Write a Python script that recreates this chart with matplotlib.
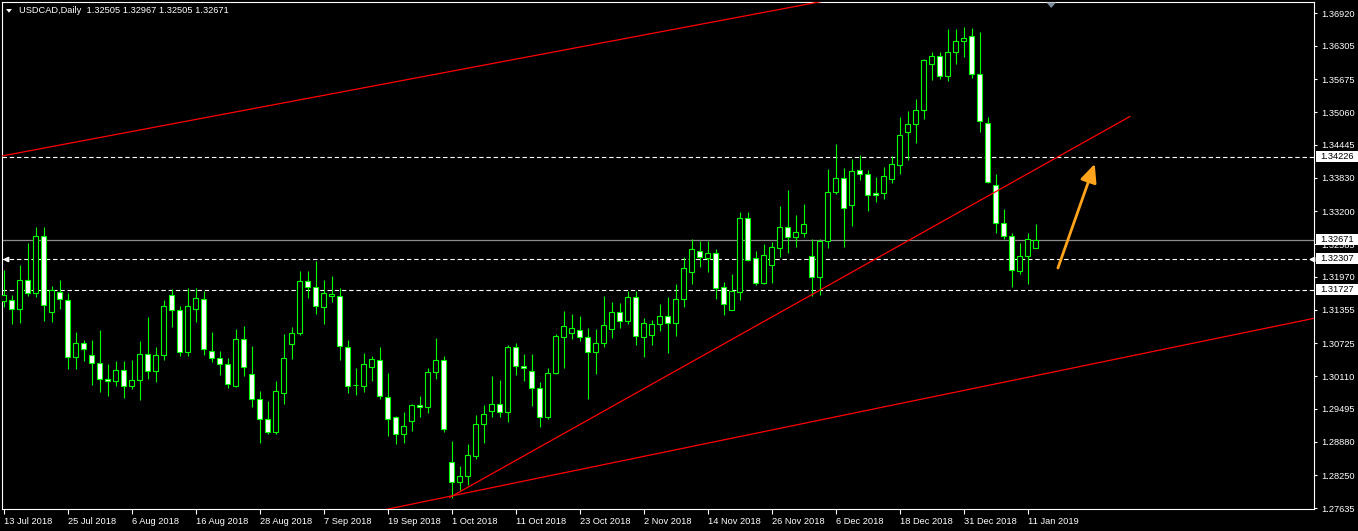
import matplotlib
matplotlib.use("Agg")
import matplotlib.pyplot as plt
from matplotlib.patches import Rectangle, Polygon
import matplotlib.transforms as mtransforms
import numpy as np

# ---------------- data (USDCAD daily) ----------------
date_labels = ["13 Jul 2018", "25 Jul 2018", "6 Aug 2018", "16 Aug 2018", "28 Aug 2018",
               "7 Sep 2018", "19 Sep 2018", "1 Oct 2018", "11 Oct 2018", "23 Oct 2018",
               "2 Nov 2018", "14 Nov 2018", "26 Nov 2018", "6 Dec 2018", "18 Dec 2018",
               "31 Dec 2018", "11 Jan 2019"]

opens = [1.31518, 1.31537, 1.31368, 1.31912, 1.31668, 1.32737, 1.31312, 1.31687, 1.31537, 1.30467,
         1.30730, 1.30505, 1.30355, 1.30055, 1.30017, 1.30224, 1.29923, 1.30036, 1.30524, 1.30205,
         1.30505, 1.31630, 1.31349, 1.30561, 1.31368, 1.31555, 1.30580, 1.30449, 1.30336, 1.29923,
         1.30805, 1.30149, 1.29680, 1.29304, 1.29061, 1.29792, 1.30711, 1.30918, 1.31893, 1.31781,
         1.31405, 1.31612, 1.31612, 1.30655, 1.29942, 1.29923, 1.30280, 1.30411, 1.29717, 1.29342,
         1.29023, 1.29267, 1.29567, 1.29530, 1.30186, 1.30411, 1.28498, 1.28123, 1.28235, 1.28610,
         1.29211, 1.29455, 1.29586, 1.29436, 1.30655, 1.30299, 1.30205, 1.29886, 1.29342, 1.30167,
         1.30843, 1.30918, 1.30974, 1.30843, 1.30561, 1.30730, 1.30993, 1.31312, 1.31143, 1.31593,
         1.30843, 1.30880, 1.31086, 1.31237, 1.31105, 1.31555, 1.32062, 1.32456, 1.32324, 1.32418,
         1.31781, 1.31349, 1.31687, 1.33075, 1.32324, 1.31856, 1.32193, 1.32512, 1.32906, 1.32718,
         1.32793, 1.32362, 1.31968, 1.32643, 1.33563, 1.33825, 1.33319, 1.33975, 1.33900, 1.33544,
         1.33544, 1.33806, 1.34069, 1.34688, 1.34838, 1.35101, 1.35963, 1.36114, 1.35738, 1.36189,
         1.36395, 1.36489, 1.35776, 1.34857, 1.33694, 1.32981, 1.32737, 1.32081, 1.32362, 1.32505]

highs = [1.32099, 1.31630, 1.32193, 1.32606, 1.32906, 1.32906, 1.31799, 1.31912, 1.31668, 1.30936,
         1.30786, 1.30786, 1.30974, 1.30336, 1.30392, 1.30392, 1.30411, 1.30768, 1.31218, 1.30655,
         1.31537, 1.31743, 1.31424, 1.31762, 1.31762, 1.31705, 1.30936, 1.30580, 1.30449, 1.30993,
         1.31049, 1.30674, 1.29830, 1.29642, 1.30017, 1.30899, 1.31030, 1.32081, 1.32081, 1.32268,
         1.31912, 1.31987, 1.31762, 1.30786, 1.30261, 1.30542, 1.30486, 1.30655, 1.30167, 1.29361,
         1.29436, 1.29586, 1.29736, 1.30261, 1.30824, 1.30486, 1.28892, 1.28423, 1.28835, 1.29379,
         1.29567, 1.30111, 1.30036, 1.30693, 1.30730, 1.30524, 1.30524, 1.29999, 1.30261, 1.30899,
         1.31330, 1.31274, 1.31237, 1.31011, 1.30993, 1.31612, 1.31499, 1.31480, 1.31705, 1.31705,
         1.31199, 1.31161, 1.31462, 1.31593, 1.31837, 1.32343, 1.32681, 1.32643, 1.32643, 1.32493,
         1.31874, 1.32024, 1.33187, 1.33187, 1.32456, 1.32587, 1.32625, 1.33300, 1.33600, 1.33131,
         1.33337, 1.32681, 1.32681, 1.33994, 1.34463, 1.34013, 1.34182, 1.34257, 1.33975, 1.33844,
         1.34031, 1.34238, 1.34969, 1.35082, 1.35307, 1.36057, 1.36189, 1.36189, 1.36620, 1.36620,
         1.36658, 1.36639, 1.36564, 1.34969, 1.33900, 1.33244, 1.32793, 1.32606, 1.32793, 1.32967]

lows = [1.31405, 1.31086, 1.31105, 1.31612, 1.31593, 1.31143, 1.31124, 1.31368, 1.30242, 1.30242,
        1.30392, 1.29942, 1.29811, 1.29736, 1.29923, 1.29698, 1.29867, 1.29661, 1.30055, 1.29999,
        1.30411, 1.31030, 1.30486, 1.30486, 1.31124, 1.30505, 1.30374, 1.30130, 1.29886, 1.29905,
        1.30111, 1.29530, 1.28854, 1.29023, 1.29023, 1.29586, 1.30430, 1.30880, 1.31574, 1.31274,
        1.31086, 1.31499, 1.30411, 1.29792, 1.29755, 1.29811, 1.30017, 1.29680, 1.28986, 1.28835,
        1.28854, 1.29079, 1.29342, 1.29417, 1.30055, 1.29061, 1.27823, 1.27973, 1.28066, 1.28554,
        1.28854, 1.29342, 1.29342, 1.29248, 1.30130, 1.30017, 1.29548, 1.29155, 1.29304, 1.30149,
        1.30261, 1.30805, 1.30768, 1.29680, 1.30149, 1.30655, 1.30824, 1.31011, 1.31086, 1.30693,
        1.30467, 1.30693, 1.30955, 1.30542, 1.30861, 1.31405, 1.31837, 1.32156, 1.32062, 1.31555,
        1.31255, 1.31349, 1.31537, 1.32268, 1.31818, 1.31837, 1.31856, 1.32343, 1.32418, 1.32531,
        1.32718, 1.31612, 1.31630, 1.32512, 1.33525, 1.32531, 1.32925, 1.33788, 1.33206, 1.33375,
        1.33431, 1.33731, 1.33900, 1.34163, 1.34482, 1.34932, 1.35663, 1.35682, 1.35645, 1.35963,
        1.36095, 1.35701, 1.34688, 1.33731, 1.32793, 1.32681, 1.31781, 1.32024, 1.31837, 1.32505]

closes = [1.31630, 1.31368, 1.31912, 1.31668, 1.32737, 1.31443, 1.31724, 1.31555, 1.30467, 1.30730,
          1.30618, 1.30355, 1.30055, 1.30017, 1.30224, 1.29923, 1.30036, 1.30524, 1.30205, 1.30505,
          1.31424, 1.31349, 1.30561, 1.31424, 1.31574, 1.30618, 1.30449, 1.30336, 1.29961, 1.30805,
          1.30280, 1.29680, 1.29304, 1.29061, 1.29830, 1.30449, 1.30918, 1.31893, 1.31781, 1.31424,
          1.31668, 1.31649, 1.30674, 1.29923, 1.29935, 1.30336, 1.30430, 1.29736, 1.29304, 1.29023,
          1.29173, 1.29567, 1.29530, 1.30186, 1.30411, 1.29117, 1.28123, 1.28235, 1.28629, 1.29211,
          1.29398, 1.29586, 1.29436, 1.30655, 1.30299, 1.30261, 1.29886, 1.29342, 1.30167, 1.30861,
          1.31049, 1.31011, 1.30843, 1.30561, 1.30730, 1.31068, 1.31312, 1.31143, 1.31593, 1.30861,
          1.31105, 1.31086, 1.31237, 1.31105, 1.31555, 1.32137, 1.32493, 1.32343, 1.32418, 1.31762,
          1.31462, 1.31705, 1.33075, 1.32287, 1.31856, 1.32381, 1.32531, 1.32906, 1.32718, 1.32812,
          1.32962, 1.31968, 1.32643, 1.33563, 1.33825, 1.33262, 1.33956, 1.33900, 1.33506, 1.33506,
          1.33862, 1.34088, 1.34632, 1.34838, 1.35101, 1.36039, 1.36114, 1.35738, 1.36189, 1.36395,
          1.36451, 1.35776, 1.34894, 1.33750, 1.32981, 1.32737, 1.32099, 1.32362, 1.32681, 1.32671]

price_ticks = [1.36920, 1.36305, 1.35675, 1.35060, 1.34445, 1.33830, 1.33200, 1.32585,
               1.31970, 1.31355, 1.30725, 1.30110, 1.29495, 1.28880, 1.28250, 1.27635]

dashed_levels = [1.34226, 1.32307, 1.31727]
bid_level = 1.32671
label_levels = [1.34226, 1.32671, 1.32307, 1.31727]

upper_channel_x = [-0.2, 103.0]
upper_channel_y = [1.34238, 1.37157]
lower_channel_x = [45.0, 164.0]
lower_channel_y = [1.27521, 1.31199]
trend_x = [55.8, 140.8]
trend_y = [1.27836, 1.34979]
arrow_x = [131.8, 136.4]
arrow_y = [1.32137, 1.34090]

title = "USDCAD,Daily  1.32505 1.32967 1.32505 1.32671"

# ---------------- figure ----------------
W, H = 1358, 531
fig = plt.figure(figsize=(W / 100, H / 100), dpi=100, facecolor="black")
ax = fig.add_axes([2 / W, 22 / H, 1312 / W, 507 / H], facecolor="black")

FONT = ["Liberation Sans", "DejaVu Sans"]
GREEN = "#00ff00"

n = len(opens)
xs = np.arange(n)
bw = 0.56

ax.vlines(xs, lows, highs, color=GREEN, lw=0.8, zorder=3)
for i in range(n):
    o, c = opens[i], closes[i]
    bottom = min(o, c)
    height = abs(c - o)
    face = "white" if c < o else "black"
    ax.add_patch(Rectangle((xs[i] - bw / 2, bottom), bw, height,
                           facecolor=face, edgecolor=GREEN, lw=0.8, zorder=4))

# horizontal levels
for lv in dashed_levels:
    ax.axhline(lv, color="white", lw=0.8, ls=(0, (4, 2.5)), zorder=2)
ax.axhline(bid_level, color="#8c8c8c", lw=0.9, zorder=2)

# red trend / channel lines
ax.plot(upper_channel_x, upper_channel_y, color="#ff0000", lw=0.9, zorder=5)
ax.plot(lower_channel_x, lower_channel_y, color="#ff0000", lw=0.9, zorder=5)
ax.plot(trend_x, trend_y, color="#ff0000", lw=0.9, zorder=5)

# orange arrow
ax.annotate("", xy=(arrow_x[1], arrow_y[1]), xytext=(arrow_x[0], arrow_y[0]),
            arrowprops=dict(arrowstyle="-|>,head_length=0.55,head_width=0.25",
                            mutation_scale=20, color="#ffa41c", lw=2.0,
                            shrinkA=0, shrinkB=0), zorder=6)

# axes limits: pixel rows 2..509 of the image
ppx = 0.000187576
ax.set_ylim(1.37164 - ppx * 509, 1.37164 - ppx * 2)
ax.set_xlim(-0.19, 163.81)

for sp in ax.spines.values():
    sp.set_color("white")
    sp.set_linewidth(0.8)

# right price axis
ax.yaxis.tick_right()
ax.set_yticks(price_ticks)
ax.set_yticklabels([f"{v:.5f}" for v in price_ticks])
ax.tick_params(axis="y", colors="white", length=2.4, width=0.8, pad=2.6,
               labelsize=6.7)
for lab in ax.get_yticklabels():
    lab.set_family(FONT)

# bottom date axis
date_pos = list(range(0, n, 8))
ax.set_xticks(date_pos)
ax.set_xticklabels(date_labels, ha="left")
ax.tick_params(axis="x", colors="white", length=3.5, width=0.8, pad=2.5,
               labelsize=6.7)
for lab in ax.get_xticklabels():
    lab.set_family(FONT)

# highlighted level labels on the right
blend = mtransforms.blended_transform_factory(ax.transAxes, ax.transData)
x0 = (1316 - 2) / 1312
x1 = (1358 - 2) / 1312
for lv in label_levels:
    ax.add_patch(Rectangle((x0, lv - 5.5 * ppx), x1 - x0, 11 * ppx, transform=blend,
                           facecolor="white", edgecolor="none", clip_on=False, zorder=7))
    ax.text(x0 + 4.5 / 1312, lv, f"{lv:.5f}", transform=blend, color="black",
            fontsize=6.7, family=FONT, va="center", ha="left", clip_on=False, zorder=8)

# small white markers on the 1.32307 line
ax.plot([0.003], [dashed_levels[1]], transform=blend, marker="<", ms=3.2,
        color="white", clip_on=False, zorder=8)
ax.plot([0.9985], [dashed_levels[1]], transform=blend, marker="<", ms=3.2,
        color="white", clip_on=False, zorder=8)

# title
def fpx(x, y):
    return (x / W, 1 - y / H)

fig.patches.append(Polygon([fpx(6, 9), fpx(12, 9), fpx(9, 12.7)], closed=True,
                           transform=fig.transFigure, facecolor="white", edgecolor="none"))
fig.text(19 / W, 1 - 10.8 / H, title, color="white", fontsize=6.7, family=FONT,
         va="center", ha="left")

# chart shift marker
fig.patches.append(Polygon([fpx(1046.5, 2.5), fpx(1056, 2.5), fpx(1051.2, 8)], closed=True,
                           transform=fig.transFigure, facecolor="#7d8c9c", edgecolor="none",
                           zorder=10))

fig.savefig("out.png", dpi=100, facecolor="black")
